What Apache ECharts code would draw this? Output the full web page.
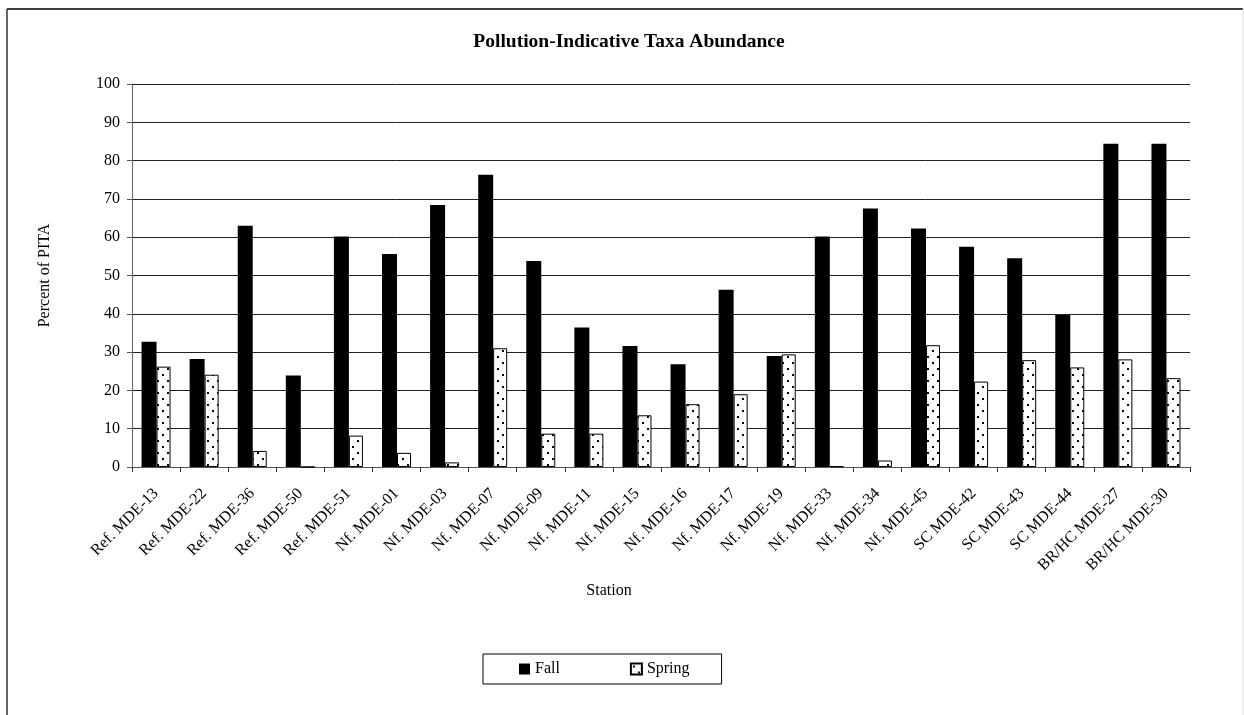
<!DOCTYPE html>
<html>
<head>
<meta charset="utf-8">
<script src="https://cdn.jsdelivr.net/npm/echarts@6/dist/echarts.min.js"></script>
<style>
  html, body { margin: 0; padding: 0; background: #fff; }
  #chart { width: 1244px; height: 715px; }
</style>
</head>
<body>
<div id="chart"></div>
<script>
// Stations sampled, in plotting order
const stations = [
  'Ref. MDE-13', 'Ref. MDE-22', 'Ref. MDE-36', 'Ref. MDE-50', 'Ref. MDE-51',
  'Nf. MDE-01', 'Nf. MDE-03', 'Nf. MDE-07', 'Nf. MDE-09', 'Nf. MDE-11',
  'Nf. MDE-15', 'Nf. MDE-16', 'Nf. MDE-17', 'Nf. MDE-19', 'Nf. MDE-33',
  'Nf. MDE-34', 'Nf. MDE-45', 'SC MDE-42', 'SC MDE-43', 'SC MDE-44',
  'BR/HC MDE-27', 'BR/HC MDE-30'
];

// Percent of pollution-indicative taxa, fall sampling
const fallValues = [
  32.7, 28.2, 63.0, 23.9, 60.2,
  55.6, 68.4, 76.3, 53.8, 36.4,
  31.6, 26.8, 46.3, 29.0, 60.2,
  67.5, 62.3, 57.5, 54.5, 39.7,
  84.4, 84.4
];

// Percent of pollution-indicative taxa, spring sampling
const springValues = [
  26.2, 24.1, 4.2, 0, 8.2,
  3.7, 1.2, 31.0, 8.7, 8.7,
  13.5, 16.4, 19.0, 29.4, 0.2,
  1.7, 31.8, 22.3, 27.9, 26.0,
  28.1, 23.2
];

const yTicks = { min: 0, max: 100, step: 10 };

// Dotted fill used for the spring bars
function dotPattern() {
  const c = document.createElement('canvas');
  c.width = 10; c.height = 12;
  const g = c.getContext('2d');
  g.fillStyle = '#fff';
  g.fillRect(0, 0, 10, 12);
  g.fillStyle = '#000';
  g.fillRect(2, 2, 2, 2);
  g.fillRect(7, 8, 2, 2);
  return c;
}

const serif = '"Liberation Serif", "DejaVu Serif", serif';
const chart = echarts.init(document.getElementById('chart'), null, { renderer: 'canvas' });
const dots = { image: dotPattern(), repeat: 'repeat' };

chart.setOption({
  backgroundColor: '#fff',
  animation: false,
  textStyle: { fontFamily: serif, color: '#000' },
  graphic: [
    // chart frame (runs past the right and bottom of the page)
    { type: 'line', shape: { x1: 7, y1: 9, x2: 1243, y2: 9 }, style: { stroke: '#000', lineWidth: 1.5 } },
    { type: 'line', shape: { x1: 7, y1: 9, x2: 7, y2: 720 }, style: { stroke: '#333', lineWidth: 1.5 } },
    { type: 'line', shape: { x1: 1243, y1: 9, x2: 1243, y2: 720 }, style: { stroke: '#ddd', lineWidth: 1 } },
    {
      type: 'text', x: 629, y: 42,
      style: {
        text: 'Pollution-Indicative Taxa Abundance',
        font: 'bold 19.5px ' + serif,
        fill: '#000', textAlign: 'center', textVerticalAlign: 'middle'
      }
    },
    {
      type: 'text', x: 609, y: 591,
      style: {
        text: 'Station',
        font: '16px ' + serif,
        fill: '#000', textAlign: 'center', textVerticalAlign: 'middle'
      }
    }
  ],
  legend: {
    left: 483,
    top: 654,
    padding: [7, 32, 7, 36],
    itemGap: 70,
    itemWidth: 11,
    itemHeight: 11,
    borderColor: '#000',
    borderWidth: 1,
    icon: 'rect',
    textStyle: { fontFamily: serif, fontSize: 16, color: '#000' },
    data: ['Fall', 'Spring']
  },
  grid: { left: 132, right: 54, top: 84, bottom: 248, containLabel: false },
  xAxis: {
    type: 'category',
    data: stations,
    axisLine: { lineStyle: { color: '#555', width: 1 } },
    axisTick: { show: true, length: 5, lineStyle: { color: '#333' } },
    axisLabel: { rotate: 45, fontFamily: serif, fontSize: 16, color: '#000', margin: 24 }
  },
  yAxis: {
    type: 'value',
    min: yTicks.min,
    max: yTicks.max,
    interval: yTicks.step,
    name: 'Percent of PITA',
    nameLocation: 'middle',
    nameGap: 79,
    nameTextStyle: { fontFamily: serif, fontSize: 16, color: '#000' },
    axisLine: { show: true, lineStyle: { color: '#666', width: 1 } },
    axisTick: { show: true, length: 5, lineStyle: { color: '#555' } },
    axisLabel: { fontFamily: serif, fontSize: 16, color: '#000', margin: 12 },
    splitLine: { show: true, lineStyle: { color: '#222', width: 1 } }
  },
  series: [
    {
      name: 'Fall',
      type: 'bar',
      data: fallValues,
      barWidth: 15,
      barGap: '0%',
      itemStyle: { color: '#000' }
    },
    {
      name: 'Spring',
      type: 'bar',
      data: springValues,
      barWidth: 14,
      itemStyle: { color: dots, borderColor: '#000', borderWidth: 1 }
    }
  ]
});
</script>
</body>
</html>
